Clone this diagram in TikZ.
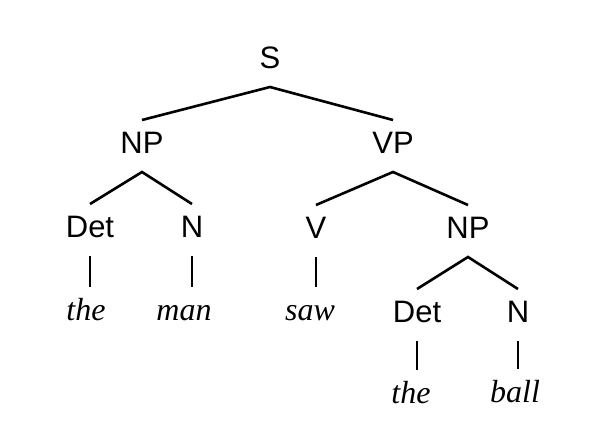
\documentclass[tikz,border=0pt]{standalone}
\usepackage{fontspec}
\setmainfont{Liberation Serif}
\setsansfont{Liberation Sans}
\begin{document}
\begin{tikzpicture}[x=1pt,y=-1pt,
  cat/.style={anchor=base,inner sep=0pt,outer sep=0pt,text height=33pt,text depth=19pt,
    font=\sffamily\fontsize{31}{36}\selectfont},
  word/.style={anchor=base,inner sep=0pt,outer sep=0pt,text height=33pt,text depth=8pt,
    font=\rmfamily\itshape\fontsize{32}{36}\selectfont},
  edge/.style={line width=2.6pt,line cap=butt}]
\useasboundingbox[fill=white] (0,0) rectangle (600,424);
\node[cat] (S) at (270,68) {S};
\node[cat] (NP) at (142,153) {NP};
\node[cat] (VP) at (393,153) {VP};
\node[cat] (Det1) at (90,237) {Det};
\node[cat] (N1) at (192,237) {N};
\node[cat] (V) at (316,238) {V};
\node[cat] (NP2) at (468,238) {NP};
\node[cat] (Det2) at (417,322) {Det};
\node[cat] (N2) at (518,322) {N};
\node[word] (the1) at (86,320) {the};
\node[word] (man) at (184,320) {man};
\node[word] (saw) at (310,320) {saw};
\node[word] (the2) at (411,403) {the};
\node[word] (ball) at (515,402) {ball};
\draw[edge] (NP.north) -- (S.south) -- (VP.north);
\draw[edge] (Det1.north) -- (NP.south) -- (N1.north);
\draw[edge] (V.north) -- (VP.south) -- (NP2.north);
\draw[edge] (Det2.north) -- (NP2.south) -- (N2.north);
\draw[edge] (Det1.south) -- (Det1.south |- the1.north);
\draw[edge] (N1.south) -- (N1.south |- man.north);
\draw[edge] (V.south) -- (V.south |- saw.north);
\draw[edge] (Det2.south) -- (Det2.south |- the2.north);
\draw[edge] (N2.south) -- (N2.south |- ball.north);
\end{tikzpicture}
\end{document}
